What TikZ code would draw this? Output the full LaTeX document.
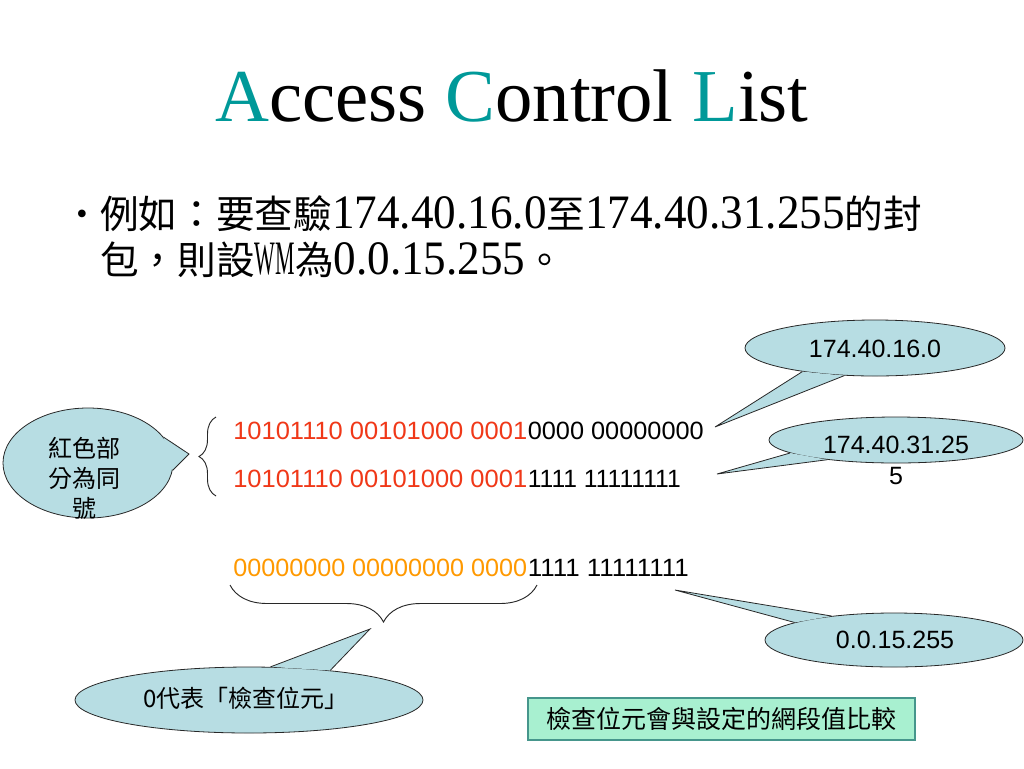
\documentclass[tikz,border=0pt]{standalone}
\usepackage{fontspec}
\usepackage{graphicx}
\setmainfont{Liberation Serif}
\newfontfamily\cjk{Noto Sans CJK TC}
\newfontfamily\arialf{Liberation Sans}
\usetikzlibrary{shapes.geometric,decorations.pathreplacing}
\definecolor{tealA}{RGB}{0,153,153}
\definecolor{redbit}{RGB}{240,56,24}
\definecolor{orangebit}{RGB}{255,153,0}
\definecolor{callfill}{RGB}{183,221,227}
\definecolor{boxfill}{RGB}{168,240,208}
\definecolor{boxline}{RGB}{70,150,140}
\definecolor{lineC}{RGB}{40,40,40}
\newcommand\ltn[2][0.94]{\scalebox{#1}[1]{\rmfamily\fontsize{36pt}{40pt}\selectfont #2}}
\newcommand\fitw[2]{\resizebox{#1pt}{\height}{#2}}
\begin{document}
\begin{tikzpicture}[x=0.75pt,y=-0.75pt,
  callout/.style={ellipse, draw=lineC, fill=callfill, line width=0.6pt, inner sep=0pt},
  ptrfill/.style={fill=callfill},
  ptrline/.style={draw=lineC, line width=0.6pt, line join=miter},
  bits/.style={anchor=base west, inner sep=0pt, font=\arialf\fontsize{18.75pt}{20pt}\selectfont},
  calltext/.style={inner sep=0pt, align=center, font=\arialf\fontsize{18.75pt}{23.25pt}\selectfont},
  cjktext/.style={inner sep=0pt, align=center, font=\cjk\fontsize{18pt}{22.5pt}\selectfont},
  bigline/.style={anchor=base west, inner sep=0pt, font=\cjk\fontsize{29pt}{33pt}\selectfont},
  bracestyle/.style={draw=lineC, line width=0.7pt, decorate}
]
\useasboundingbox[fill=white] (0,0) rectangle (1024,768);

% title
\node[anchor=base, inner sep=0pt, font=\fontsize{56pt}{60pt}\selectfont] (title) at (512,121)
  {\textcolor{tealA}{A}ccess \textcolor{tealA}{C}ontrol \textcolor{tealA}{L}ist};

% bullet text
\node[anchor=base, inner sep=0pt, font=\fontsize{24pt}{24pt}\selectfont] (bullet) at (82,224) {•};
\node[bigline] (line1) at (100,228) {例如：要查驗\ltn{174.40.16.0}至\ltn{174.40.31.255}的封};
\node[bigline] (line2) at (100,274) {包，則設\ltn[0.456]{WM}為\ltn{0.0.15.255}。};

% binary lines
\node[bits, text=redbit] (r1) at (233,439) {\fitw{220.5}{10101110 00101000 0001}};
\node[bits] (k1) at (r1.base east) {\fitw{132}{0000 00000000}};
\node[bits, text=redbit] (r2) at (233,487) {\fitw{220.5}{10101110 00101000 0001}};
\node[bits] (k2) at (r2.base east) {\fitw{114.75}{1111 11111111}};
\node[bits, text=orangebit] (o3) at (233,576) {\fitw{220.5}{00000000 00000000 0000}};
\node[bits] (k3) at (o3.base east) {\fitw{120.75}{1111 11111111}};

% braces
\coordinate (lbT) at (216,417);
\coordinate (lbB) at (216,496);
\draw[bracestyle, decoration={brace, amplitude=12.75pt}] (lbB) -- (lbT);
\coordinate (bbL) at (230,585);
\coordinate (bbR) at (537,585);
\draw[bracestyle, decoration={brace, amplitude=27.75pt}] (bbR) -- (bbL);

% callout 1: 174.40.16.0
\node[callout, minimum width=195pt, minimum height=42pt] (c1) at (875,348) {};
\coordinate (t1) at (715,427);
\fill[ptrfill] (c1.198) -- (t1) -- (c1.222) -- cycle;
\draw[ptrline] (c1.198) -- (t1) -- (c1.222);
\node[calltext] (c1t) at (875,349) {174.40.16.0};

% callout 2: 174.40.31.255
\node[callout, minimum width=190.5pt, minimum height=34.5pt] (c2) at (896,440) {};
\coordinate (t2) at (717,474);
\fill[ptrfill] (c2.187) -- (t2) -- (c2.196) -- cycle;
\draw[ptrline] (c2.187) -- (t2) -- (c2.196);
\node[calltext] (c2t) at (896,460) {174.40.31.25\\5};

% callout 3: 0.0.15.255
\node[callout, minimum width=193.5pt, minimum height=40.5pt] (c3) at (894,640) {};
\coordinate (t3) at (675,590);
\fill[ptrfill] (c3.159) -- (t3) -- (c3.170) -- cycle;
\draw[ptrline] (c3.159) -- (t3) -- (c3.170);
\node[calltext] (c3t) at (895,640) {0.0.15.255};

% callout 4: 0代表「檢查位元」
\node[callout, minimum width=261pt, minimum height=49.5pt] (c4) at (249,700) {};
\coordinate (t4) at (370,629);
\fill[ptrfill] (c4.57) -- (t4) -- (c4.20) -- cycle;
\draw[ptrline] (c4.57) -- (t4) -- (c4.20);
\node[cjktext] (c4t) at (246,698) {0代表「檢查位元」};

% callout 5: 紅色部分為同號
\node[callout, minimum width=127.5pt, minimum height=82.5pt] (c5) at (88,463) {};
\coordinate (t5) at (189,454);
\fill[ptrfill] (c5.19) -- (t5) -- (c5.355) -- cycle;
\draw[ptrline] (c5.19) -- (t5) -- (c5.355);
\node[cjktext] (c5t) at (84,478) {紅色部\\分為同\\號};

% green box
\node[draw=boxline, fill=boxfill, line width=0.8pt, minimum width=290.25pt, minimum height=31.5pt,
  inner sep=0pt, font=\cjk\fontsize{18.75pt}{20pt}\selectfont] (note) at (721.5,719)
  {檢查位元會與設定的網段值比較};
\end{tikzpicture}
\end{document}
